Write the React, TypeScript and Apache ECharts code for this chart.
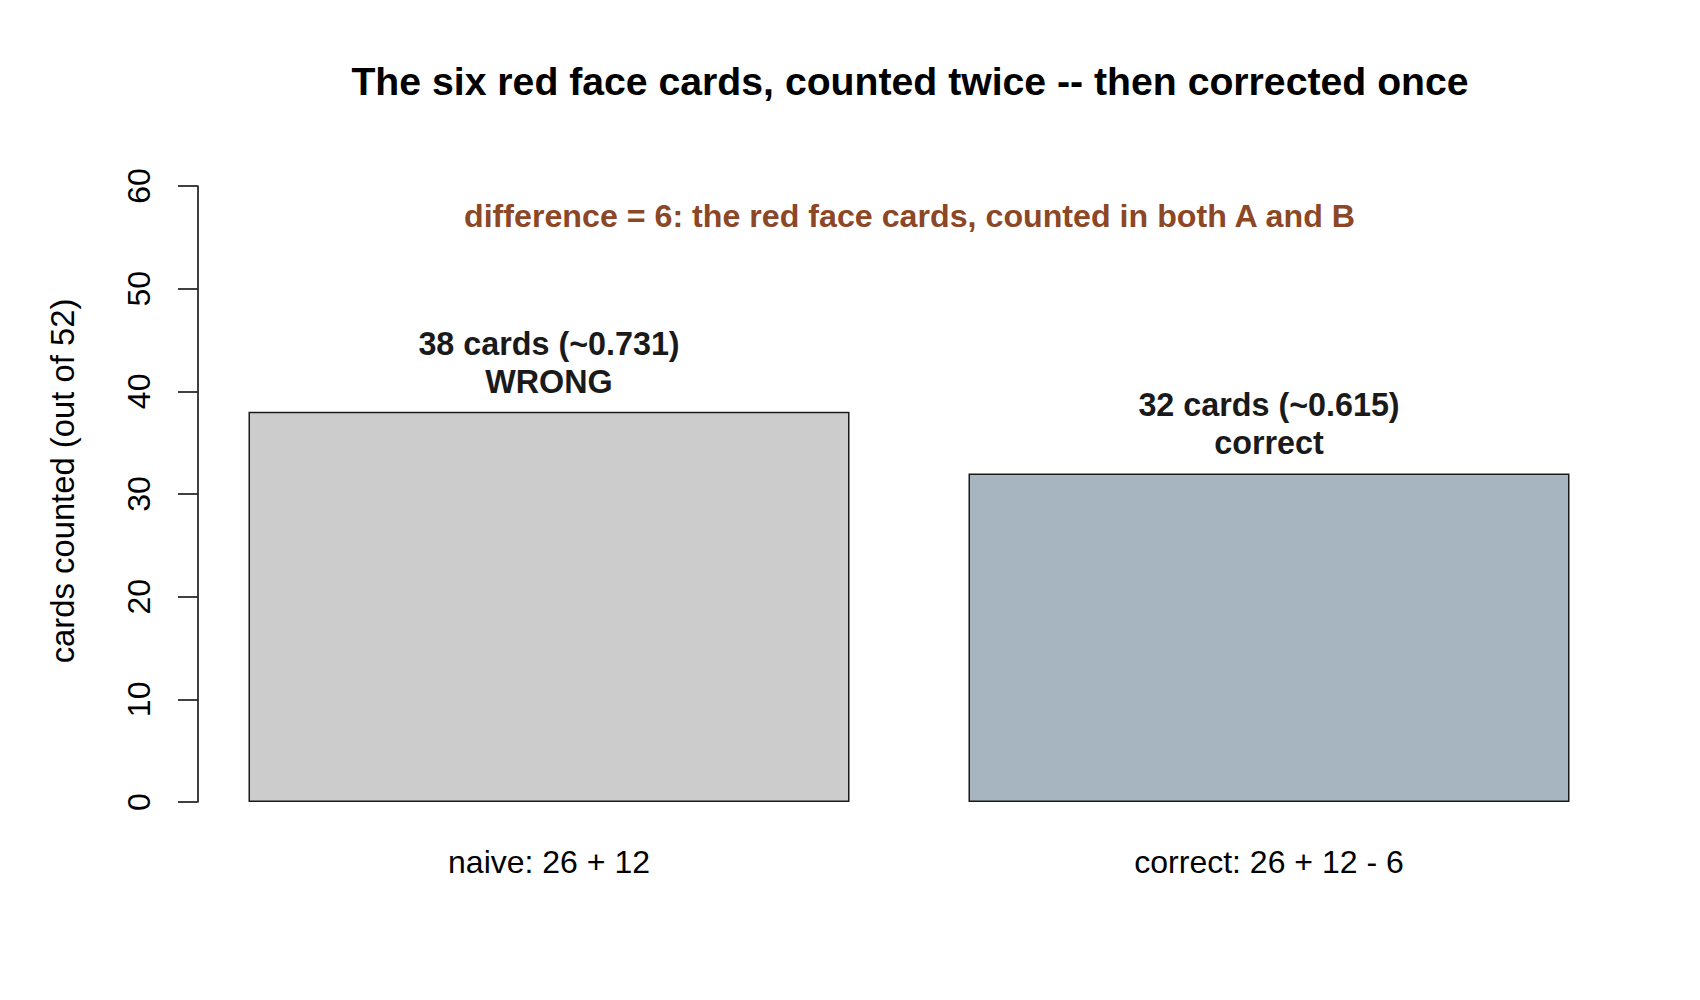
import React, { useEffect, useRef } from "react";
import * as echarts from "echarts";

const categories = ["naive: 26 + 12", "correct: 26 + 12 - 6"];
const counts = [38, 32];
const verdicts = ["WRONG", "correct"];
const deckSize = 52;
const barColors = ["#CCCCCC", "#A6B5C0"];
const yTicks = { min: 0, max: 60, interval: 10 };
const titleText = "The six red face cards, counted twice -- then corrected once";
const noteText = "difference = 6: the red face cards, counted in both A and B";
const yTitle = "cards counted (out of 52)";

const FONT = "'Liberation Sans', Arial, Helvetica, sans-serif";

export default function App() {
  const ref = useRef<HTMLDivElement>(null);
  useEffect(() => {
    document.body.style.margin = "0";
    const chart = echarts.init(ref.current!, null, { renderer: "svg" });
    chart.setOption({
      animation: false,
      backgroundColor: "#ffffff",
      textStyle: { fontFamily: FONT },
      grid: { left: 189, right: 71, top: 186, bottom: 198, containLabel: false },
      xAxis: {
        type: "category",
        data: categories,
        axisLine: { show: false },
        axisTick: { show: false },
        axisLabel: { margin: 44, fontSize: 32, color: "#000", fontFamily: FONT },
      },
      yAxis: {
        type: "value",
        min: yTicks.min,
        max: yTicks.max,
        interval: yTicks.interval,
        offset: -8.5,
        splitLine: { show: false },
        axisLine: { show: true, lineStyle: { color: "#000", width: 1.5 } },
        axisTick: { show: true, inside: false, length: 19.5, lineStyle: { color: "#000", width: 1.5 } },
        axisLabel: { rotate: 90, margin: 43, fontSize: 32, color: "#000", fontFamily: FONT },
      },
      series: [
        {
          type: "bar",
          barWidth: 601,
          data: counts.map((v, i) => ({
            value: v,
            itemStyle: { color: barColors[i], borderColor: "#1a1a1a", borderWidth: 1.5 },
          })),
          label: {
            show: true,
            position: "top",
            distance: 11,
            fontSize: 32.3,
            fontWeight: "bold",
            color: "#1a1a1a",
            lineHeight: 38,
            fontFamily: FONT,
            formatter: (p: any) =>
              `${p.value} cards (~${(p.value / deckSize).toFixed(3)})\n${verdicts[p.dataIndex]}`,
          },
        },
      ],
      graphic: [
        {
          type: "text",
          x: 910,
          y: 81.5,
          style: {
            text: titleText,
            font: `bold 39.2px ${FONT}`,
            fill: "#000",
            align: "center",
            verticalAlign: "middle",
          },
        },
        {
          type: "text",
          x: 909.5,
          y: 216,
          style: {
            text: noteText,
            font: `bold 32.2px ${FONT}`,
            fill: "#8B4726",
            align: "center",
            verticalAlign: "middle",
          },
        },
        {
          type: "text",
          x: 62,
          y: 481,
          rotation: Math.PI / 2,
          style: {
            text: yTitle,
            font: `32.8px ${FONT}`,
            fill: "#000",
            align: "center",
            verticalAlign: "middle",
          },
        },
      ],
    });
    return () => chart.dispose();
  }, []);
  return <div ref={ref} style={{ width: 1700, height: 1000 }} />;
}
